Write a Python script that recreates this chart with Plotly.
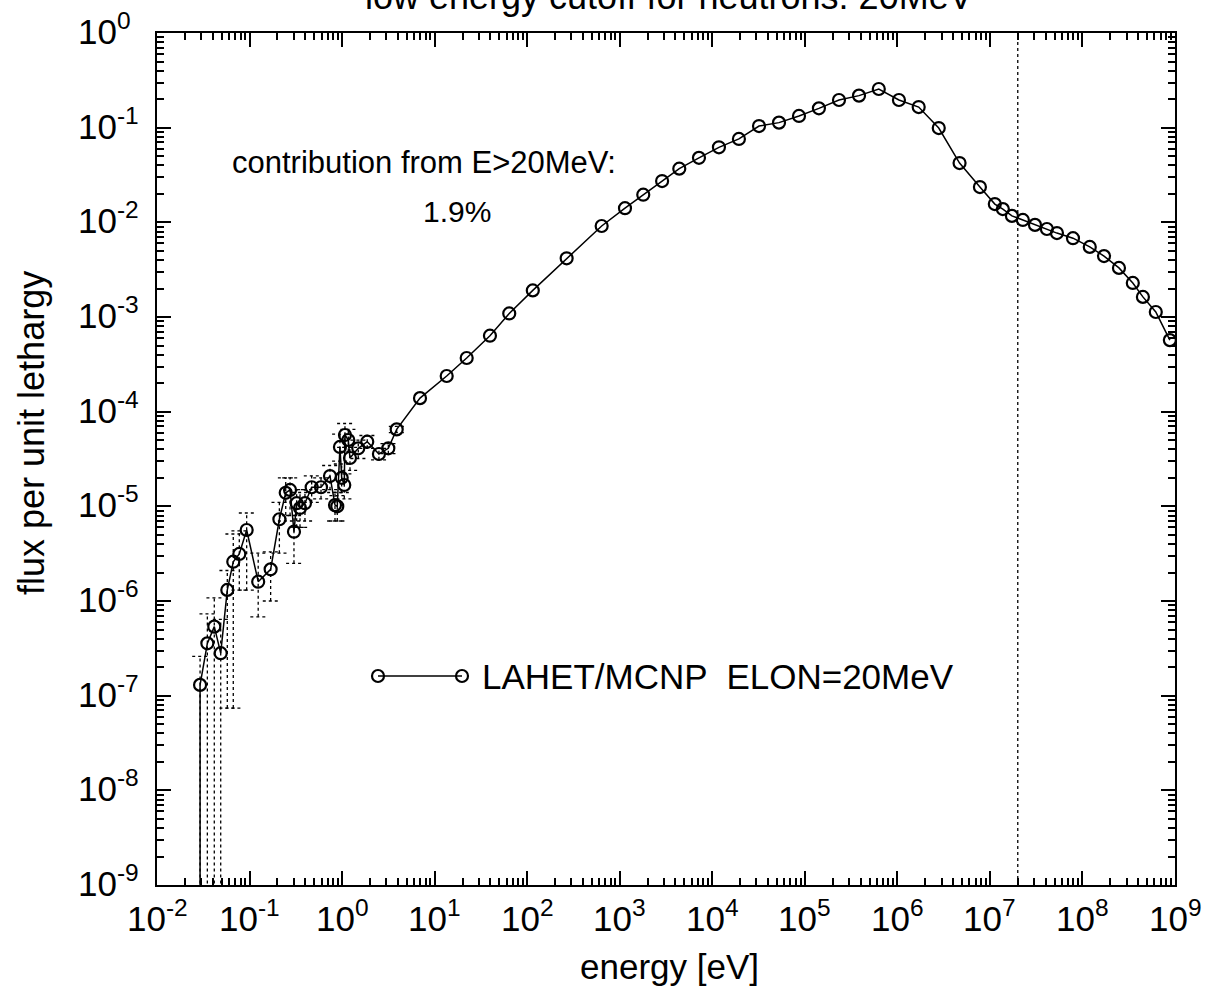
import plotly.graph_objects as go

# ---- data ----
energy_eV = [
    0.0292, 0.0350, 0.0416, 0.0488, 0.0575, 0.0667, 0.0775, 0.0931, 0.124, 0.169,
    0.210, 0.246, 0.274, 0.302, 0.323, 0.351, 0.397, 0.469, 0.592, 0.740,
    0.838, 0.887, 0.948, 0.99, 1.056, 1.074, 1.167, 1.217, 1.496, 1.87,
    2.5, 3.16, 3.89,
    6.95, 13.5, 22.2, 39.6, 64, 115, 267, 638, 1140, 1796,
    2870, 4400, 7180, 1.18e4, 1.94e4, 3.2e4, 5.26e4, 8.65e4, 1.42e5, 2.34e5,
    3.85e5, 6.3e5, 1.04e6, 1.7e6, 2.8e6, 4.7e6, 7.8e6, 1.13e7, 1.38e7, 1.73e7,
    2.27e7, 3.07e7, 4.13e7, 5.3e7, 7.9e7, 1.2e8, 1.71e8, 2.48e8, 3.5e8, 4.5e8,
    6.2e8, 8.8e8,
]
flux = [
    1.30e-7, 3.57e-7, 5.36e-7, 2.81e-7, 1.31e-6, 2.60e-6, 3.14e-6, 5.62e-6, 1.60e-6, 2.16e-6,
    7.30e-6, 1.39e-5, 1.49e-5, 5.40e-6, 1.08e-5, 9.6e-6, 1.08e-5, 1.59e-5, 1.59e-5, 2.09e-5,
    1.03e-5, 1.0e-5, 4.24e-5, 2.0e-5, 1.68e-5, 5.67e-5, 5.02e-5, 3.24e-5, 4.1e-5, 4.82e-5,
    3.57e-5, 4.1e-5, 6.5e-5,
    1.39e-4, 2.38e-4, 3.69e-4, 6.35e-4, 1.09e-3, 1.91e-3, 4.17e-3, 9.15e-3, 1.41e-2, 1.96e-2,
    2.73e-2, 3.69e-2, 4.8e-2, 6.2e-2, 7.6e-2, 0.104, 0.113, 0.133, 0.160, 0.196,
    0.218, 0.256, 0.196, 0.165, 0.099, 0.0423, 0.0236, 0.0156, 0.0138, 0.0117,
    0.0106, 0.0094, 0.0085, 0.0077, 0.0068, 0.0055, 0.0044, 0.0033, 0.00229, 0.00163,
    0.00113, 5.7e-4,
]
# statistical error bounds for the low-energy points (0 = lower bound reaches zero)
err_upper = [
    2.6e-7, 7.3e-7, 1.08e-6, 6.4e-7, 2.1e-6, 5.1e-6, 5.5e-6, 8.5e-6, 3.2e-6, 3.3e-6,
    1.1e-5, 2.0e-5, 2.0e-5, 8e-6, 1.5e-5, 1.4e-5, 1.5e-5, 2.1e-5, 2.0e-5, 2.7e-5,
    1.4e-5, 1.3e-5, 5.8e-5, 2.8e-5, 2.2e-5, 7.5e-5, 6.5e-5, 4.2e-5, 5e-5, 5.6e-5,
    4.1e-5, 4.6e-5, 7e-5,
]
err_lower = [
    0, 0, 0, 0, 7.4e-8, 7.4e-8, 1.3e-6, 1.3e-6, 6.8e-7, 1.0e-6,
    3.2e-6, 7e-6, 8e-6, 2.5e-6, 6e-6, 6e-6, 7e-6, 1.1e-5, 1.2e-5, 1.5e-5,
    7e-6, 7e-6, 3e-5, 1.4e-5, 1.2e-5, 4.2e-5, 3.8e-5, 2.4e-5, 3.2e-5, 4.1e-5,
    3.1e-5, 3.6e-5, 6e-5,
]
cutoff_energy = 2e7  # ELON = 20 MeV
series_name = "LAHET/MCNP  ELON=20MeV"
title_text = "low energy cutoff for neutrons: 20MeV"
note_text = "contribution from E>20MeV:"
note_value = "1.9%"
x_title = "energy [eV]"
y_title = "flux per unit lethargy"

x_decades = list(range(-2, 10))   # tick exponents on the energy axis
y_decades = list(range(-9, 1))    # tick exponents on the flux axis

FONT = "Liberation Sans, Arial, sans-serif"
TICKFONT = 35
cap_half = 10 ** 0.085  # horizontal cap half-width factor (style)
y_floor = 10 ** y_decades[0]

# ---- error-bar segments (dotted) ----
ex, ey = [], []
for e, f, up, lo in zip(energy_eV, flux, err_upper, err_lower):
    low = lo if lo > 0 else y_floor * 0.5
    ex += [e, e, None]
    ey += [low, up, None]
    ex += [e / cap_half, e * cap_half, None]
    ey += [up, up, None]
    if lo > 0:
        ex += [e / cap_half, e * cap_half, None]
        ey += [lo, lo, None]

fig = go.Figure()
fig.add_trace(go.Scatter(x=ex, y=ey, mode="lines", line=dict(color="black", width=1.3, dash="dot"),
                         showlegend=False, hoverinfo="skip"))
# first bin drops to zero
fig.add_trace(go.Scatter(x=[energy_eV[0], energy_eV[0]], y=[flux[0], y_floor * 0.5], mode="lines",
                         line=dict(color="black", width=1.5), showlegend=False))
fig.add_trace(go.Scatter(
    x=energy_eV, y=flux, mode="lines+markers", name=series_name,
    line=dict(color="black", width=1.5),
    marker=dict(symbol="circle-open", size=12, color="black", line=dict(width=2.2)),
    showlegend=False,
))

# vertical dotted line at the cutoff
fig.add_shape(type="line", xref="x", yref="paper", x0=cutoff_energy, x1=cutoff_energy, y0=0, y1=1,
              line=dict(color="black", width=1.3, dash="dot"))

# legend sample  o-----o  (paper coordinates)
L, T, W, H = 157, 33, 1018, 852
def px(xp):
    return (xp - L) / W
def py(yp):
    return (T + H - yp) / H
ly = py(676)
fig.add_shape(type="line", xref="paper", yref="paper", x0=px(378), x1=px(462), y0=ly, y1=ly,
              line=dict(color="black", width=1.5))
for cx in (378, 462):
    fig.add_shape(type="circle", xref="paper", yref="paper", xsizemode="pixel", ysizemode="pixel",
                  xanchor=px(cx), yanchor=ly, x0=-6, x1=6, y0=-6, y1=6,
                  line=dict(color="black", width=2.2), fillcolor="rgba(0,0,0,0)")
fig.add_annotation(xref="paper", yref="paper", x=px(480), y=ly, text=series_name, showarrow=False,
                   xanchor="left", yanchor="middle", font=dict(family=FONT, size=35, color="black"))

fig.add_annotation(xref="paper", yref="paper", x=px(230), y=py(163), text=note_text, showarrow=False,
                   xanchor="left", yanchor="middle", font=dict(family=FONT, size=31, color="black"))
fig.add_annotation(xref="paper", yref="paper", x=px(457), y=py(211), text=note_value, showarrow=False,
                   xanchor="center", yanchor="middle", font=dict(family=FONT, size=30, color="black"))

# title (mostly above the visible page)
fig.add_annotation(xref="paper", yref="paper", x=px(669), y=py(19), text=title_text, showarrow=False,
                   xanchor="center", yanchor="bottom", font=dict(family=FONT, size=36, color="black"))
# axis titles
fig.add_annotation(xref="paper", yref="paper", x=px(669), y=py(966), text=x_title, showarrow=False,
                   xanchor="center", yanchor="middle", font=dict(family=FONT, size=35, color="black"))
fig.add_annotation(xref="paper", yref="paper", x=px(31), y=py(433), text=y_title, showarrow=False,
                   textangle=-90, xanchor="center", yanchor="middle",
                   font=dict(family=FONT, size=36, color="black"))

# tick labels as "10^n"
for k in x_decades:
    fig.add_annotation(xref="x", yref="paper", x=k, y=py(920), text=f"10<sup>{k}</sup>",
                       showarrow=False, xanchor="center", yanchor="middle", xshift=0, yshift=4,
                       font=dict(family=FONT, size=TICKFONT, color="black"))
for k in y_decades:
    fig.add_annotation(xref="paper", yref="y", x=px(76), y=k, text=f"10<sup>{k}</sup>",
                       showarrow=False, xanchor="left", yanchor="middle", yshift=4,
                       font=dict(family=FONT, size=TICKFONT, color="black"))

def minor_vals(decades):
    vals = []
    for k in decades[:-1]:
        for m in range(2, 10):
            vals.append(m * 10.0 ** k)
    return vals

def axis_style(decades):
    return dict(
        type="log", range=[decades[0], decades[-1]],
        tickmode="array", tickvals=[10.0 ** k for k in decades],
        showgrid=False, zeroline=False,
        showline=True, linecolor="black", linewidth=2, mirror="allticks",
        ticks="inside", ticklen=14, tickwidth=2, tickcolor="black",
        showticklabels=False,
        minor=dict(tickmode="array", tickvals=minor_vals(decades), ticks="inside",
                   ticklen=7, tickwidth=1.5, tickcolor="black", showgrid=False),
    )

fig.update_layout(
    xaxis=axis_style(x_decades),
    yaxis=axis_style(y_decades),
    width=1205, height=988,
    margin=dict(l=157, r=30, t=33, b=103),
    paper_bgcolor="white", plot_bgcolor="white",
    showlegend=False,
    font=dict(family=FONT, color="black"),
)

fig.write_html("out.html")
